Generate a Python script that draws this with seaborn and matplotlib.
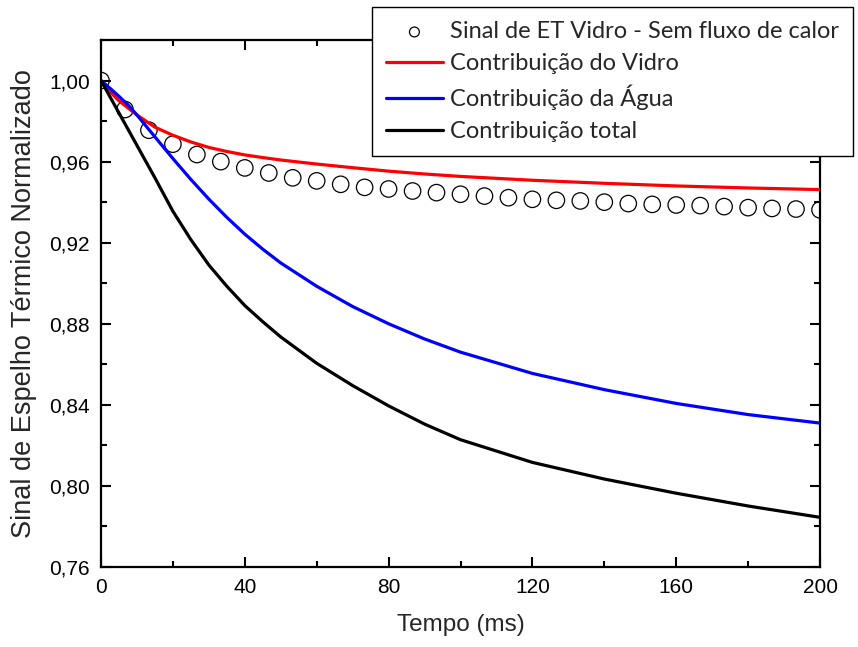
import matplotlib
matplotlib.use("Agg")
import matplotlib.pyplot as plt
import seaborn as sns
import pandas as pd
from matplotlib.ticker import MultipleLocator, FuncFormatter

# ---- data ----
t_sinal = [0, 6.67, 13.33, 20, 26.67, 33.33, 40, 46.67, 53.33, 60, 66.67, 73.33,
           80, 86.67, 93.33, 100, 106.67, 113.33, 120, 126.67, 133.33, 140,
           146.67, 153.33, 160, 166.67, 173.33, 180, 186.67, 193.33, 200]
sinal = [1.000, 0.9857, 0.9755, 0.9686, 0.9635, 0.9600, 0.9569, 0.9544, 0.9520,
         0.9505, 0.9488, 0.9473, 0.9465, 0.9455, 0.9447, 0.9439, 0.9430, 0.9422,
         0.9414, 0.9409, 0.9406, 0.9400, 0.9393, 0.9389, 0.9386, 0.9383, 0.9378,
         0.9373, 0.9369, 0.9366, 0.9362]

t_curva = [0, 2.5, 5, 7.5, 10, 15, 20, 25, 30, 35, 40, 45, 50, 60, 70, 80, 90,
           100, 120, 140, 160, 180, 200]
vidro = [1.000, 0.9945, 0.9900, 0.9865, 0.9830, 0.9770, 0.9730, 0.9697, 0.9670,
         0.9650, 0.9633, 0.9620, 0.9608, 0.9588, 0.9570, 0.9553, 0.9539, 0.9527,
         0.9508, 0.9493, 0.9480, 0.9470, 0.9462]
agua = [1.000, 0.9962, 0.9922, 0.9880, 0.9830, 0.9722, 0.9615, 0.9512, 0.9415,
        0.9325, 0.9242, 0.9168, 0.9100, 0.8985, 0.8885, 0.8800, 0.8725, 0.8660,
        0.8555, 0.8475, 0.8407, 0.8352, 0.8310]
total = [1.000, 0.9920, 0.9840, 0.9760, 0.9680, 0.9520, 0.9355, 0.9215, 0.9090,
         0.8985, 0.8890, 0.8810, 0.8735, 0.8605, 0.8495, 0.8395, 0.8305, 0.8228,
         0.8116, 0.8034, 0.7964, 0.7901, 0.7845]

labels = ["Sinal de ET Vidro - Sem fluxo de calor", "Contribuição do Vidro",
          "Contribuição da Água", "Contribuição total"]
x_ticks = [0, 40, 80, 120, 160, 200]
y_ticks = [0.76, 0.80, 0.84, 0.88, 0.92, 0.96, 1.00]

# ---- style ----
sns.set_theme(style="ticks")
plt.rcParams["font.family"] = ["Liberation Sans", "DejaVu Sans"]

fig = plt.figure(figsize=(8.58, 6.47), dpi=100)
ax = fig.add_axes([101/858, 1-567/647, (820-101)/858, (567-40)/647])

df_s = pd.DataFrame({"t": t_sinal, "v": sinal})
sns.scatterplot(data=df_s, x="t", y="v", ax=ax, marker="o", s=140,
                facecolor="none", edgecolor="black", linewidth=0.9,
                label=labels[0], zorder=2)
for vals, col, lab in [(vidro, "#ff0000", labels[1]),
                       (agua, "#0000ff", labels[2]),
                       (total, "#000000", labels[3])]:
    df = pd.DataFrame({"t": t_curva, "v": vals})
    sns.lineplot(data=df, x="t", y="v", ax=ax, color=col, linewidth=2.3,
                 label=lab, zorder=3)

ax.set_xlim(0, 200)
ax.set_ylim(0.76, 1.02)
ax.set_xticks(x_ticks)
ax.set_yticks(y_ticks)
ax.xaxis.set_minor_locator(MultipleLocator(20))
ax.yaxis.set_minor_locator(MultipleLocator(0.02))
ax.xaxis.set_major_formatter(FuncFormatter(lambda v, p: f"{v:.0f}"))
ax.yaxis.set_major_formatter(FuncFormatter(lambda v, p: f"{v:.2f}".replace(".", ",")))
ax.tick_params(which="both", direction="in", top=True, right=True, width=1.5,
               labelsize=15, color="black", labelcolor="black")
ax.tick_params(which="major", length=7, pad=8)
ax.tick_params(which="minor", length=4)
for sp in ax.spines.values():
    sp.set_visible(True)
    sp.set_linewidth(1.6)
    sp.set_color("black")

ax.set_xlabel("Tempo (ms)", fontsize=17.5, labelpad=12)
ax.set_ylabel("Sinal de Espelho Térmico Normalizado", fontsize=19.5, labelpad=9)

leg = ax.legend(loc="upper right", bbox_to_anchor=(853/858, 1-7/647),
                bbox_transform=fig.transFigure, borderaxespad=0,
                prop={"family": ["Lato", "DejaVu Sans"], "size": 17},
                frameon=True, fancybox=False, edgecolor="black",
                handlelength=2.4, handletextpad=0.3, labelspacing=0.46,
                borderpad=0.6, markerscale=0.6)
leg.get_frame().set_linewidth(1.0)
leg.get_frame().set_alpha(1)

fig.savefig("out.png", dpi=100)
